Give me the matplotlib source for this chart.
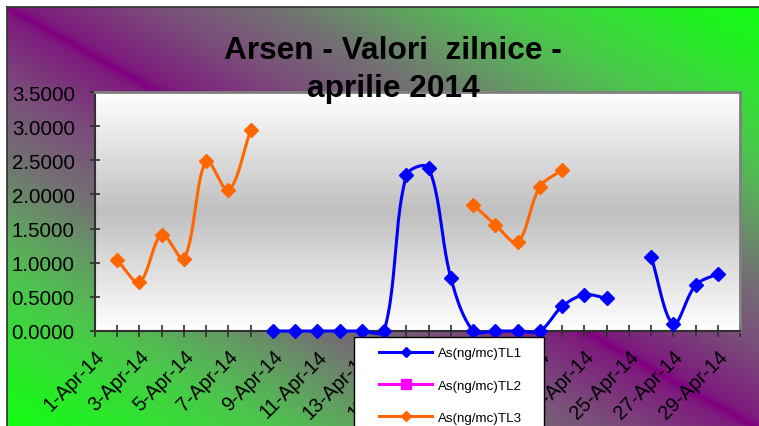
import numpy as np
import matplotlib
matplotlib.use("Agg")
import matplotlib.pyplot as plt
from matplotlib.patches import Rectangle
from matplotlib.lines import Line2D

nan = np.nan

# ---------------- data ----------------
days = list(range(1, 31))
dates = [f"{d}-Apr-14" for d in days]

tl1 = [nan] * 8 + [0, 0, 0, 0, 0, 0, 2.28, 2.39, 0.776, 0, 0, 0, 0,
                   0.36, 0.53, 0.48, nan, 1.09, 0.10, 0.67, 0.84, nan]
tl2 = [nan] * 30
tl3 = [nan, 1.035, 0.717, 1.41, 1.06, 2.49, 2.06, 2.94] + [nan] * 9 + \
      [1.85, 1.556, 1.30, 2.11, 2.36] + [nan] * 8

series_names = ["As(ng/mc)TL1", "As(ng/mc)TL2", "As(ng/mc)TL3"]
series_colors = ["#0000FF", "#FF00FF", "#FF6600"]
yticks = [0, 0.5, 1.0, 1.5, 2.0, 2.5, 3.0, 3.5]
title = "Arsen - Valori  zilnice -\naprilie 2014"

plt.rcParams["font.family"] = ["Liberation Sans", "DejaVu Sans"]

W, H = 759, 427
fig = plt.figure(figsize=(W / 100, H / 100), dpi=100)
fig.patch.set_facecolor("white")

# ---------------- background gradient (chart area) ----------------
x0, y0, x1, y1 = 7, 8, 763, 432
yy, xx = np.mgrid[0:H, 0:W].astype(float)
a = (xx - x0) / (x1 - x0)
b = (yy - y0) / (y1 - y0)
t = np.clip(np.abs(a - b), 0, 1)
stops = [0.0, 0.02, 0.08, 0.2, 0.35, 0.5, 0.65, 0.85, 1.0]
rs = [128, 126, 124, 122, 115, 98, 75, 40, 16]
gs = [0, 25, 45, 80, 112, 158, 200, 235, 255]
bs = [128, 126, 124, 122, 115, 98, 75, 40, 16]
img = np.stack([np.interp(t, stops, rs), np.interp(t, stops, gs),
                np.interp(t, stops, bs)], axis=-1) / 255.0
mask = (xx < x0) | (yy < y0)
img[mask] = 1.0
bg = fig.add_axes([0, 0, 1, 1])
bg.imshow(img, extent=[0, W, H, 0], aspect="auto", interpolation="bilinear")
bg.plot([x0, x0], [y0, H], color="#303030", lw=1.2)
bg.plot([x0, W], [y0, y0], color="#303030", lw=1.2)
bg.set_xlim(0, W)
bg.set_ylim(H, 0)
bg.axis("off")

# ---------------- plot area ----------------
L, R, T, B = 95, 740, 93, 332
ax = fig.add_axes([L / W, 1 - B / H, (R - L) / W, (B - T) / H])
n = len(days)
ax.set_xlim(0, n - 1)
ax.set_ylim(0, 3.5)

grad = np.concatenate([np.linspace(255, 192, 50), np.linspace(192, 255, 50)])
grad = np.repeat(grad[:, None], 2, axis=1) / 255.0
grad_rgb = np.stack([grad, grad, grad], axis=-1)
ax.imshow(grad_rgb, extent=[0, n - 1, 0, 3.5], aspect="auto",
          interpolation="bilinear", zorder=0)
ax.set_xlim(0, n - 1)
ax.set_ylim(0, 3.5)

# pixel scale for screen-space smoothing
p = ax.transData.transform([[0, 0], [1, 1]])
sx, sy = p[1] - p[0]


def smooth_runs(xs, ys, k=1.0 / 3.0, nseg=24):
    xs = np.asarray(xs, float)
    ys = np.asarray(ys, float)
    out = []
    ok = ~np.isnan(ys)
    i = 0
    while i < len(ys):
        if not ok[i]:
            i += 1
            continue
        j = i
        while j < len(ys) and ok[j]:
            j += 1
        P = np.column_stack([xs[i:j] * sx, ys[i:j] * sy])
        if len(P) == 1:
            out.append((P[:, 0] / sx, P[:, 1] / sy))
        else:
            pts = []
            m = len(P)
            for s in range(m - 1):
                p0 = P[s - 1] if s > 0 else P[s]
                p1 = P[s]
                p2 = P[s + 1]
                p3 = P[s + 2] if s + 2 < m else P[s + 1]
                d01 = np.hypot(*(p1 - p0))
                d12 = np.hypot(*(p2 - p1))
                d23 = np.hypot(*(p3 - p2))
                f1 = d12 / (d01 + d12) if d01 + d12 > 0 else 0
                f2 = d12 / (d12 + d23) if d12 + d23 > 0 else 0
                c1 = p1 + (p2 - p0) * k * f1
                c2 = p2 - (p3 - p1) * k * f2
                tt = np.linspace(0, 1, nseg)[:, None]
                seg = ((1 - tt) ** 3) * p1 + 3 * ((1 - tt) ** 2) * tt * c1 + \
                      3 * (1 - tt) * tt ** 2 * c2 + tt ** 3 * p2
                pts.append(seg if s == 0 else seg[1:])
            pts = np.vstack(pts)
            out.append((pts[:, 0] / sx, pts[:, 1] / sy))
        i = j
    return out


xs = np.arange(n)
for vals, col in zip([tl1, tl2, tl3], series_colors):
    for cx, cy in smooth_runs(xs, vals):
        ax.plot(cx, cy, color=col, lw=2.2, zorder=3, clip_on=False,
                solid_capstyle="round")
    ax.plot(xs, vals, linestyle="none", marker="D", ms=7.6, color=col,
            markeredgecolor=col, zorder=4, clip_on=False)

# spines
for s in ["top", "right"]:
    ax.spines[s].set_color("#808080")
    ax.spines[s].set_linewidth(2)
for s in ["left", "bottom"]:
    ax.spines[s].set_color("#303030")
    ax.spines[s].set_linewidth(1.5)

ax.set_yticks(yticks)
ax.set_yticklabels([f"{v:.4f}" for v in yticks])
ax.tick_params(axis="y", direction="inout", length=7, width=1.2,
               color="#303030", labelsize=14.8, pad=11)
ax.set_xticks(xs)
ax.set_xticklabels([d if i % 2 == 0 else "" for i, d in enumerate(dates)],
                   rotation=45, ha="right", rotation_mode="anchor")
ax.tick_params(axis="x", direction="inout", length=8, width=1.2,
               color="#303030", labelsize=14.2, pad=7)

# title
fig.text(393 / W, 1 - 70 / H, title, ha="center", va="center",
         fontsize=22.8, fontweight="bold", linespacing=1.33, zorder=10)

# legend
fig.add_artist(Rectangle((354 / W, -0.1), (544 - 354) / W, (1 - 338 / H) + 0.1,
                         transform=fig.transFigure, facecolor="white",
                         edgecolor="black", lw=1, zorder=6))
handles = [
    Line2D([], [], color=series_colors[0], lw=2.2, marker="D", ms=5.2),
    Line2D([], [], color=series_colors[1], lw=2.2, marker="s", ms=7.2),
    Line2D([], [], color=series_colors[2], lw=2.2, marker="D", ms=4.6),
]
leg = fig.legend(handles, series_names, loc="upper left",
                 bbox_to_anchor=(379 / W, 1 - 348 / H),
                 bbox_transform=fig.transFigure, frameon=False,
                 fontsize=9.6, borderpad=0, borderaxespad=0,
                 handlelength=4.0, handletextpad=0.4, labelspacing=1.5)
leg.set_zorder(7)

fig.savefig("out.png", dpi=100, facecolor=fig.get_facecolor())
